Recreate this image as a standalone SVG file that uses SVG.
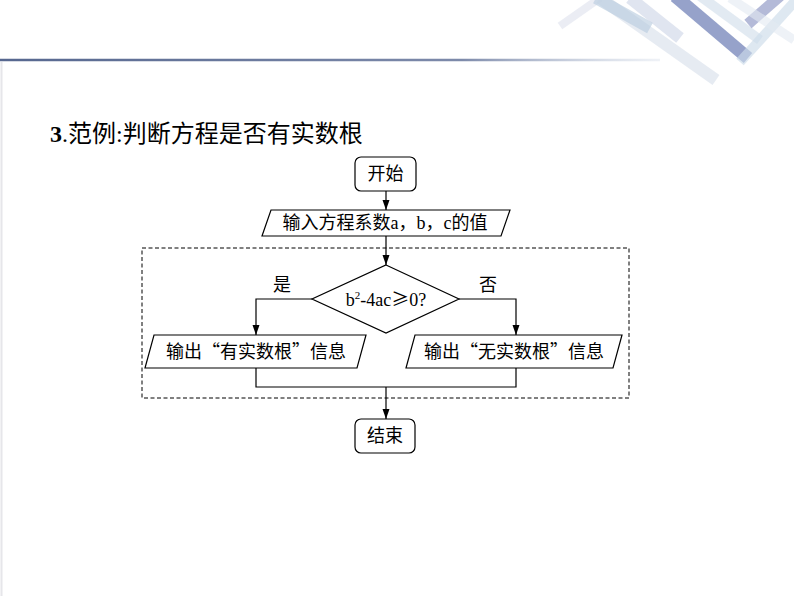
<svg xmlns="http://www.w3.org/2000/svg" width="794" height="596" viewBox="0 0 794 596">
<defs>
<marker id="ah" markerWidth="10" markerHeight="10" refX="10" refY="5" orient="auto" markerUnits="userSpaceOnUse">
<path d="M0,1.5 L10,5 L0,8.5 Z" fill="#000"/>
</marker>
<linearGradient id="hl" gradientUnits="userSpaceOnUse" x1="0" y1="0" x2="660" y2="0">
<stop offset="0" stop-color="#56678f"/>
<stop offset="0.7" stop-color="#7d8aaa"/>
<stop offset="1" stop-color="#c9d3e3" stop-opacity="0.3"/>
</linearGradient>
</defs>
<style>
.node{fill:#fff;stroke:#000;stroke-width:1.2}
.t{font-family:"Liberation Serif","Noto Sans CJK SC",serif;font-size:18px;fill:#000;text-anchor:middle}
.cjk{font-family:"Noto Sans CJK SC","Liberation Serif",sans-serif}
.c{fill:none;stroke:#000;stroke-width:1.2}
</style>
<rect width="794" height="596" fill="#fff"/>
<g id="decor">
<line x1="1.5" y1="62" x2="1.5" y2="596" stroke="#e6e6ea" stroke-width="2"/>
<line x1="0" y1="60" x2="660" y2="60" stroke="url(#hl)" stroke-width="2.5"/>
<g stroke-linecap="butt" fill="none">
<line x1="560" y1="26" x2="600" y2="-2" stroke="#e3e6ef" stroke-width="8" opacity="0.7"/>
<line x1="600" y1="-2" x2="716" y2="80" stroke="#dbe3ec" stroke-width="12" opacity="0.7"/>
<line x1="596" y1="-2" x2="650" y2="28" stroke="#b5cadd" stroke-width="12" opacity="0.6"/>
<line x1="630" y1="-2" x2="680" y2="38" stroke="#cbd3e6" stroke-width="12" opacity="0.6"/>
<line x1="675" y1="-4" x2="748" y2="58" stroke="#7383b8" stroke-width="13" opacity="0.75"/>
<line x1="700" y1="-4" x2="760" y2="40" stroke="#c6d6e6" stroke-width="10" opacity="0.5"/>
<line x1="740" y1="62" x2="798" y2="-2" stroke="#cddbea" stroke-width="10" opacity="0.65"/>
<line x1="748" y1="24" x2="780" y2="-4" stroke="#949cc8" stroke-width="11" opacity="0.7"/>
<line x1="730" y1="-2" x2="794" y2="40" stroke="#e3e9f1" stroke-width="9" opacity="0.6"/>
</g>
</g>
<text x="50" y="142" font-family="'Liberation Serif','Noto Sans CJK SC',serif" font-size="24" fill="#000"><tspan font-weight="bold">3</tspan>.范例:判断方程是否有实数根</text>
<g id="connectors">
<line class="c" x1="386" y1="191" x2="386" y2="210" marker-end="url(#ah)"/>
<line class="c" x1="386" y1="236" x2="386" y2="265" marker-end="url(#ah)"/>
<polyline class="c" points="312,299 256,299 256,335" marker-end="url(#ah)"/>
<polyline class="c" points="459,299 516,299 516,335" marker-end="url(#ah)"/>
<polyline class="c" points="256,368 256,387 516,387 516,368"/>
<line class="c" x1="386" y1="387" x2="386" y2="419" marker-end="url(#ah)"/>
<text class="t" x="282" y="291" font-size="16">是</text>
<text class="t" x="488" y="291" font-size="16">否</text>
</g>
<g id="loop">
<rect x="142" y="248" width="487" height="150" fill="none" stroke="#000" stroke-width="1" stroke-dasharray="4,2.5"/>
</g>
<g id="start">
<rect class="node" x="355" y="157" width="61" height="34" rx="6"/>
<text class="t" x="385.5" y="180">开始</text>
</g>
<g id="input">
<polygon class="node" points="271,210 510,210 501,236 262,236"/>
<text class="t" x="385" y="229" font-size="18.5">输入方程系数a，b，c的值</text>
</g>
<g id="decision">
<polygon class="node" points="386,265 459,299 386,333 312,299"/>
<text class="t" x="386" y="306" font-size="19">b<tspan font-size="11" dy="-7">2</tspan><tspan dy="7">-4ac</tspan><tspan class="cjk">≥</tspan>0?</text>
</g>
<g id="out-yes">
<polygon class="node" points="154,335 366,335 357,368 145,368"/>
<text class="t cjk" x="256" y="358">输出“有实数根”信息</text>
</g>
<g id="out-no">
<polygon class="node" points="415,335 622,335 613,368 406,368"/>
<text class="t cjk" x="514" y="358">输出“无实数根”信息</text>
</g>
<g id="end">
<rect class="node" x="355" y="419" width="60" height="34" rx="6"/>
<text class="t" x="385" y="442">结束</text>
</g>
</svg>
